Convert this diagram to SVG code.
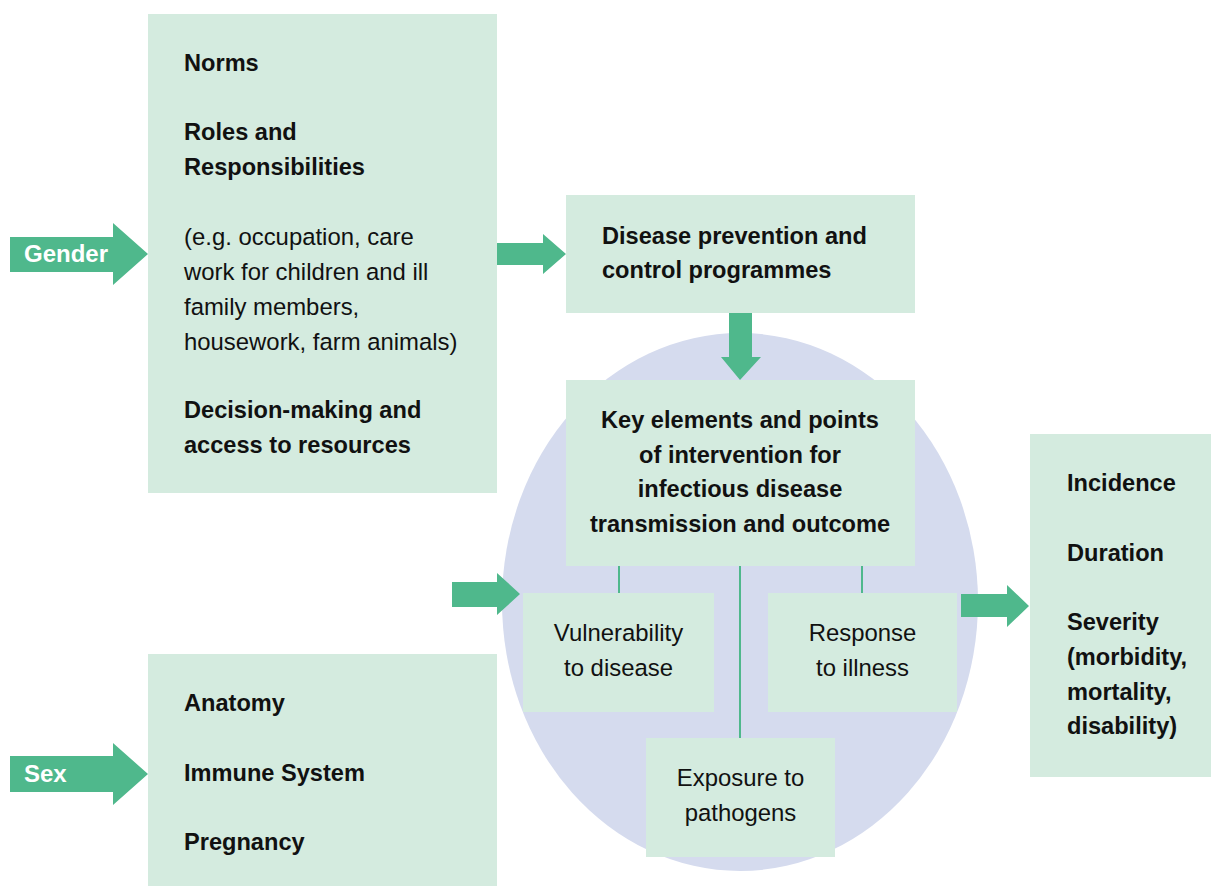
<svg xmlns="http://www.w3.org/2000/svg" width="1211" height="886" viewBox="0 0 1211 886">
  <style>
    .box { fill: #d4ebdf; }
    .arrow { fill: #4fb88c; }
    .link { stroke: #4fb88c; stroke-width: 2; fill: none; }
    .b { font-family: "Liberation Sans", Arial, sans-serif; font-weight: bold; font-size: 23.6px; fill: #111; }
    .r { font-family: "Liberation Sans", Arial, sans-serif; font-size: 23.9px; fill: #111; }
    .lbl { font-family: "Liberation Sans", Arial, sans-serif; font-weight: bold; font-size: 24px; fill: #ffffff; }
    .mid { text-anchor: middle; }
  </style>
  <rect width="1211" height="886" fill="#ffffff"/>

  <!-- central outcome zone -->
  <ellipse id="zone" cx="740" cy="602" rx="238" ry="269" fill="#d5dbee"/>

  <!-- connectors -->
  <g id="connectors">
    <line class="link" x1="619" y1="566" x2="619" y2="594"/>
    <line class="link" x1="862" y1="566" x2="862" y2="594"/>
    <line class="link" x1="740" y1="566" x2="740" y2="739"/>
    <!-- Gender arrow -->
    <polygon class="arrow" points="10,237 113,237 113,223 148,254 113,285 113,272 10,272"/>
    <!-- Sex arrow -->
    <polygon class="arrow" points="10,756 113,756 113,743 148,774 113,805 113,792 10,792"/>
    <!-- gender box to programmes -->
    <polygon class="arrow" points="497,243 543,243 543,234 566,254 543,274 543,265 497,265"/>
    <!-- programmes down to key elements -->
    <polygon class="arrow" points="729,313 752,313 752,357 761,357 740,380 721,357 729,357"/>
    <!-- into vulnerability -->
    <polygon class="arrow" points="452,582 497,582 497,573 520,594 497,615 497,607 452,607"/>
    <!-- to outcomes -->
    <polygon class="arrow" points="961,594 1007,594 1007,585 1029,606 1007,627 1007,617 961,617"/>
  </g>

  <g id="gender-box">
    <rect class="box" x="148" y="14" width="349" height="479"/>
    <text class="b" x="184" y="71">Norms</text>
    <text class="b" x="184" y="140">Roles and</text>
    <text class="b" x="184" y="175">Responsibilities</text>
    <text class="r" x="184" y="245">(e.g. occupation, care</text>
    <text class="r" x="184" y="280">work for children and ill</text>
    <text class="r" x="184" y="315">family members,</text>
    <text class="r" x="184" y="350">housework, farm animals)</text>
    <text class="b" x="184" y="418">Decision-making and</text>
    <text class="b" x="184" y="453">access to resources</text>
  </g>

  <g id="gender-label">
    <text class="lbl" x="24" y="262">Gender</text>
  </g>

  <g id="sex-label">
    <text class="lbl" x="24" y="782">Sex</text>
  </g>

  <g id="sex-box">
    <rect class="box" x="148" y="654" width="349" height="232"/>
    <text class="b" x="184" y="711">Anatomy</text>
    <text class="b" x="184" y="781">Immune System</text>
    <text class="b" x="184" y="850">Pregnancy</text>
  </g>

  <g id="programmes">
    <rect class="box" x="566" y="195" width="349" height="118"/>
    <text class="b" x="602" y="244">Disease prevention and</text>
    <text class="b" x="602" y="278">control programmes</text>
  </g>

  <g id="key-elements">
    <rect class="box" x="566" y="380" width="349" height="186"/>
    <text class="b mid" x="740" y="428">Key elements and points</text>
    <text class="b mid" x="740" y="462.5">of intervention for</text>
    <text class="b mid" x="740" y="497">infectious disease</text>
    <text class="b mid" x="740" y="531.5">transmission and outcome</text>
  </g>

  <g id="vulnerability">
    <rect class="box" x="523" y="593" width="191" height="119"/>
    <text class="r mid" x="618.5" y="641">Vulnerability</text>
    <text class="r mid" x="618.5" y="676">to disease</text>
  </g>

  <g id="response">
    <rect class="box" x="768" y="593" width="189" height="119"/>
    <text class="r mid" x="862.5" y="641">Response</text>
    <text class="r mid" x="862.5" y="676">to illness</text>
  </g>

  <g id="exposure">
    <rect class="box" x="646" y="738" width="189" height="119"/>
    <text class="r mid" x="740.5" y="786">Exposure to</text>
    <text class="r mid" x="740.5" y="821">pathogens</text>
  </g>

  <g id="outcomes">
    <rect class="box" x="1030" y="434" width="181" height="343"/>
    <text class="b" x="1067" y="491">Incidence</text>
    <text class="b" x="1067" y="561">Duration</text>
    <text class="b" x="1067" y="630">Severity</text>
    <text class="b" x="1067" y="665">(morbidity,</text>
    <text class="b" x="1067" y="699.5">mortality,</text>
    <text class="b" x="1067" y="734">disability)</text>
  </g>
</svg>
